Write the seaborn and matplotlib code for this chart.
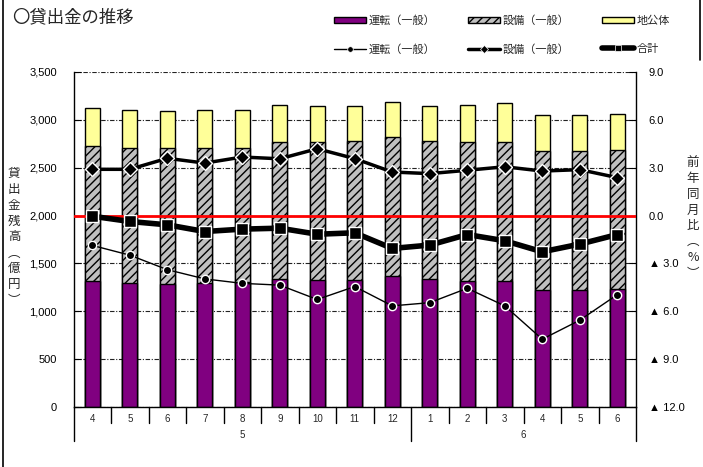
import numpy as np
import pandas as pd
import matplotlib
matplotlib.use("Agg")
import matplotlib.pyplot as plt
import matplotlib.transforms as mtransforms
from matplotlib.patches import Patch
from matplotlib.lines import Line2D
from matplotlib.ticker import FuncFormatter
import seaborn as sns

# ---------------- data ----------------
years = ["5"] * 9 + ["6"] * 6
months = ["4", "5", "6", "7", "8", "9", "10", "11", "12", "1", "2", "3", "4", "5", "6"]
unten = [1313, 1300, 1286, 1293, 1310, 1341, 1324, 1328, 1365, 1335, 1320, 1313, 1227, 1227, 1230]
setsubi = [1416, 1411, 1419, 1412, 1401, 1423, 1443, 1446, 1451, 1439, 1444, 1451, 1450, 1450, 1458]
chikoutai = [399, 393, 389, 396, 393, 389, 375, 372, 372, 375, 392, 413, 375, 375, 371]
unten_yoy = [-1.87, -2.48, -3.39, -3.97, -4.25, -4.36, -5.26, -4.45, -5.66, -5.46, -4.56, -5.66, -7.75, -6.56, -4.96]
setsubi_yoy = [2.90, 2.90, 3.59, 3.29, 3.67, 3.56, 4.19, 3.57, 2.73, 2.63, 2.84, 3.06, 2.79, 2.88, 2.38]
total_yoy = [-0.04, -0.37, -0.58, -1.00, -0.85, -0.79, -1.17, -1.08, -2.06, -1.85, -1.19, -1.58, -2.27, -1.79, -1.19]
left_ticks = [0, 500, 1000, 1500, 2000, 2500, 3000, 3500]
right_ticks = [-12, -9, -6, -3, 0, 3, 6, 9]
right_labels = ["▲ 12.0", "▲ 9.0", "▲ 6.0", "▲ 3.0", "0.0", "3.0", "6.0", "9.0"]

keys = [f"{y}-{m}-{i}" for i, (y, m) in enumerate(zip(years, months))]
df = pd.DataFrame({"key": keys, "unten": unten, "setsubi": setsubi, "chikoutai": chikoutai})
df["lvl2"] = df["unten"] + df["setsubi"]
df["lvl3"] = df["lvl2"] + df["chikoutai"]
pos = np.arange(len(keys))

PURPLE = "#800080"
GRAY = "#C0C0C0"
YELLOW = "#FFFF99"

sns.set_theme(style="white")
plt.rcParams["font.family"] = ["Liberation Sans", "Noto Sans CJK JP", "DejaVu Sans"]
plt.rcParams["hatch.linewidth"] = 1.0
plt.rcParams["hatch.color"] = "black"

W, H = 703, 467
fig = plt.figure(figsize=(W / 100, H / 100), dpi=100)
ax = fig.add_axes([73.5 / W, 1 - 407 / H, (636 - 73.5) / W, (407 - 72) / H])

bw = 0.41
sns.barplot(data=df, x="key", y="lvl3", order=keys, color=YELLOW, saturation=1,
            edgecolor="black", linewidth=1, width=bw, ax=ax, zorder=2)
sns.barplot(data=df, x="key", y="lvl2", order=keys, color=GRAY, saturation=1,
            edgecolor="black", linewidth=1, width=bw, hatch="////", ax=ax, zorder=2)
sns.barplot(data=df, x="key", y="unten", order=keys, color=PURPLE, saturation=1,
            edgecolor="black", linewidth=1, width=bw, ax=ax, zorder=2)

ax.set_ylim(0, 3500)
ax.set_yticks(left_ticks)
ax.yaxis.set_major_formatter(FuncFormatter(lambda v, p: f"{int(v):,}"))
ax.set_xlim(-0.5, len(keys) - 0.5)
ax.set_xticks(pos)
ax.set_xticklabels(months, fontsize=7)
ax.tick_params(axis="x", length=0, pad=5)
ax.tick_params(axis="y", direction="in", length=5, width=0.8, labelsize=8, pad=12, left=True, colors="black")
ax.set_xlabel("")
ax.set_ylabel("")
ax.set_axisbelow(True)
ax.yaxis.grid(True, color="#222222", linewidth=0.8, linestyle=(0, (4, 1.5, 1, 1.5)))
ax.xaxis.grid(False)
for s in ["left", "bottom", "right"]:
    ax.spines[s].set_visible(True)
    ax.spines[s].set_color("black")
    ax.spines[s].set_linewidth(1)
ax.spines["top"].set_visible(False)

ax2 = ax.twinx()
ax2.axhline(0, color="red", linewidth=2, zorder=3)
sns.lineplot(x=pos, y=unten_yoy, ax=ax2, color="black", linewidth=1, marker="o",
             markersize=6, markerfacecolor="black", markeredgecolor="white", markeredgewidth=1, zorder=4)
sns.lineplot(x=pos, y=setsubi_yoy, ax=ax2, color="black", linewidth=2.5, marker="D",
             markersize=7, markerfacecolor="black", markeredgecolor="white", markeredgewidth=1, zorder=4)
sns.lineplot(x=pos, y=total_yoy, ax=ax2, color="black", linewidth=4, marker="s",
             markersize=9, markerfacecolor="black", markeredgecolor="white", markeredgewidth=1, zorder=4)
ax2.set_ylim(-12, 9)
ax2.set_yticks(right_ticks)
ax2.set_yticklabels(right_labels)
ax2.tick_params(axis="y", direction="in", length=5, width=0.8, labelsize=8, pad=9, right=True, colors="black")
ax2.set_xlim(-0.5, len(keys) - 0.5)
for s in ax2.spines.values():
    s.set_visible(False)
ax2.grid(False)

# category separators below the axis
trans = mtransforms.blended_transform_factory(ax.transData, ax.transAxes)
short = 16 / 335
long_ = 34 / 335
for i in range(len(keys) + 1):
    xb = i - 0.5
    first = i == 0 or i == len(keys) or years[i] != years[i - 1]
    ax.plot([xb, xb], [0, -(long_ if first else short)], transform=trans, color="black",
            linewidth=1, clip_on=False)
for g in ["5", "6"]:
    idx = [i for i, y in enumerate(years) if y == g]
    ax.text(np.mean(idx), -28 / 335, g, transform=trans, ha="center", va="center", fontsize=7)

# axis titles (vertical stacked)
fig.text(14 / W, 1 - 237 / H, "\n".join("貸出金残高︵億円︶"), ha="center", va="center",
         fontsize=9, linespacing=1.28, family=["Noto Sans CJK JP"])
fig.text(693 / W, 1 - 218 / H, "\n".join("前年同月比︵%︶"), ha="center", va="center",
         fontsize=9, linespacing=1.28, family=["Noto Sans CJK JP"])

# title
fig.text(12 / W, 1 - 17.5 / H, "〇貸出金の推移", ha="left", va="center", fontsize=12.5,
         family=["Noto Sans CJK JP"])

# legend
handles = [
    Patch(facecolor=PURPLE, edgecolor="black", linewidth=1),
    Line2D([], [], color="black", linewidth=1, marker="o", markersize=4,
           markerfacecolor="black", markeredgecolor="white", markeredgewidth=0.5),
    Patch(facecolor=GRAY, edgecolor="black", linewidth=1, hatch="////"),
    Line2D([], [], color="black", linewidth=2.5, marker="D", markersize=4,
           markerfacecolor="black", markeredgecolor="white", markeredgewidth=0.5),
    Patch(facecolor=YELLOW, edgecolor="black", linewidth=1),
    Line2D([], [], color="black", linewidth=4, marker="s", markersize=5,
           markerfacecolor="black", markeredgecolor="white", markeredgewidth=0.5),
]
labels = ["運転（一般）", "運転（一般）", "設備（一般）", "設備（一般）", "地公体", "合計"]
fig.legend(handles, labels, ncol=3, loc="upper left", bbox_to_anchor=(334 / W, 1 - 15.5 / H),
           frameon=False, handlelength=2.9, handleheight=0.5, handletextpad=0.25,
           columnspacing=2.9, labelspacing=1.6, borderpad=0, borderaxespad=0, numpoints=1,
           prop={"family": ["Noto Sans CJK JP"], "size": 8})

# figure frame (left edge full height, right edge near the top)
fig.add_artist(Line2D([2.7 / W, 2.7 / W], [0, 1], transform=fig.transFigure, color="black", linewidth=1.2))
fig.add_artist(Line2D([700 / W, 700 / W], [1 - 60 / H, 1], transform=fig.transFigure, color="black", linewidth=1.2))

fig.savefig("out.png", dpi=100)
